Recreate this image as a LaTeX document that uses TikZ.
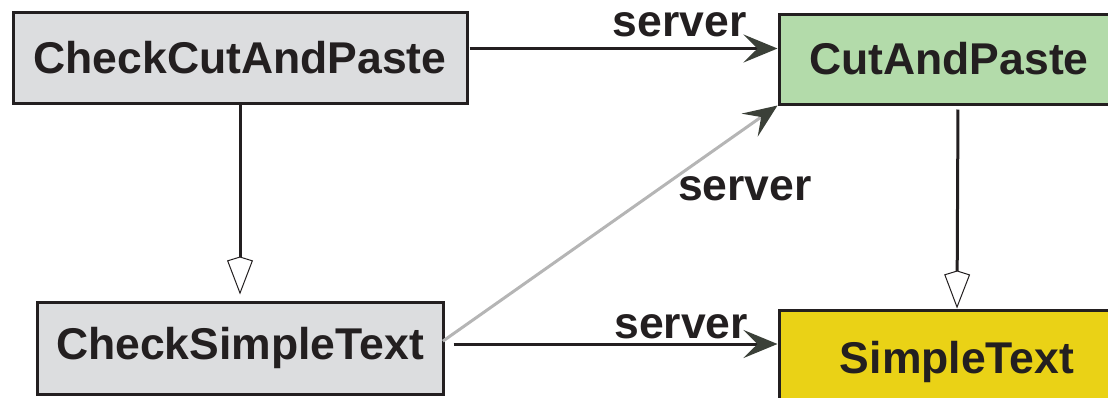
\documentclass[tikz,border=0pt]{standalone}
\usepackage{fontspec}
\setmainfont{Liberation Sans}
\usetikzlibrary{arrows.meta}

\definecolor{inkdark}{HTML}{231F20}
\definecolor{boxgray}{HTML}{DCDDDF}
\definecolor{boxgreen}{HTML}{B3DBAA}
\definecolor{boxyellow}{HTML}{EAD216}
\definecolor{headdark}{HTML}{3B4038}
\definecolor{linegray}{HTML}{B5B5B5}

\tikzset{
  classbox/.style={draw=inkdark, line width=3pt, text=inkdark,
    font=\fontsize{44.5}{50}\selectfont\bfseries, inner sep=0pt},
  uses/.style={line width=3pt, draw=inkdark,
    -{Stealth[length=34pt, width=28pt, inset=14pt, fill=headdark, color=headdark]}},
  usesgray/.style={uses, draw=linegray},
  inherits/.style={line width=3pt, draw=inkdark,
    -{Kite[open, length=38pt, width=26pt, inset=4pt, line width=1pt, fill=white]}},
  lbl/.style={text=inkdark, font=\fontsize{44.5}{50}\selectfont\bfseries,
    inner sep=0pt, anchor=base}
}

\begin{document}
\begin{tikzpicture}[x=1pt, y=-1pt]
  \useasboundingbox (0,0) rectangle (1108,397);
  \clip (0,0) rectangle (1108,397);

  % class boxes
  \node[classbox, fill=boxgray, minimum width=454pt, minimum height=91pt]
    (ccp) at (240,57.5) {CheckCutAndPaste};
  \node[classbox, fill=boxgreen, minimum width=340pt, minimum height=90pt]
    (cap) at (949,59) {CutAndPaste};
  \node[classbox, fill=boxgray, minimum width=406pt, minimum height=92pt]
    (cst) at (240,348) {CheckSimpleText};
  \node[classbox, fill=boxyellow, minimum width=356pt, minimum height=104pt]
    (st) at (957,362) {SimpleText};

  % inheritance
  \draw[inherits, shorten >=6pt] (ccp.south) -- (ccp.south |- cst.north);
  \draw[inherits, shorten <=4pt] ([xshift=9pt]cap.south) -- (st.north);

  % server associations
  \draw[uses, shorten <=1pt] ([yshift=9pt]ccp.east) -- ([yshift=9pt]ccp.east -| cap.west)
    node[lbl, pos=0.683, yshift=12pt] (l1) {server};
  \draw[uses, shorten <=9pt] ([yshift=4pt]cst.east) -- ([yshift=4pt]cst.east -| st.west)
    node[lbl, pos=0.711, yshift=6pt] (l3) {server};
  \draw[usesgray, shorten <=-2pt] ([yshift=8pt]cst.east) -- (cap.south west);
  \node[lbl] (l2) at (745,200) {server};
\end{tikzpicture}
\end{document}
